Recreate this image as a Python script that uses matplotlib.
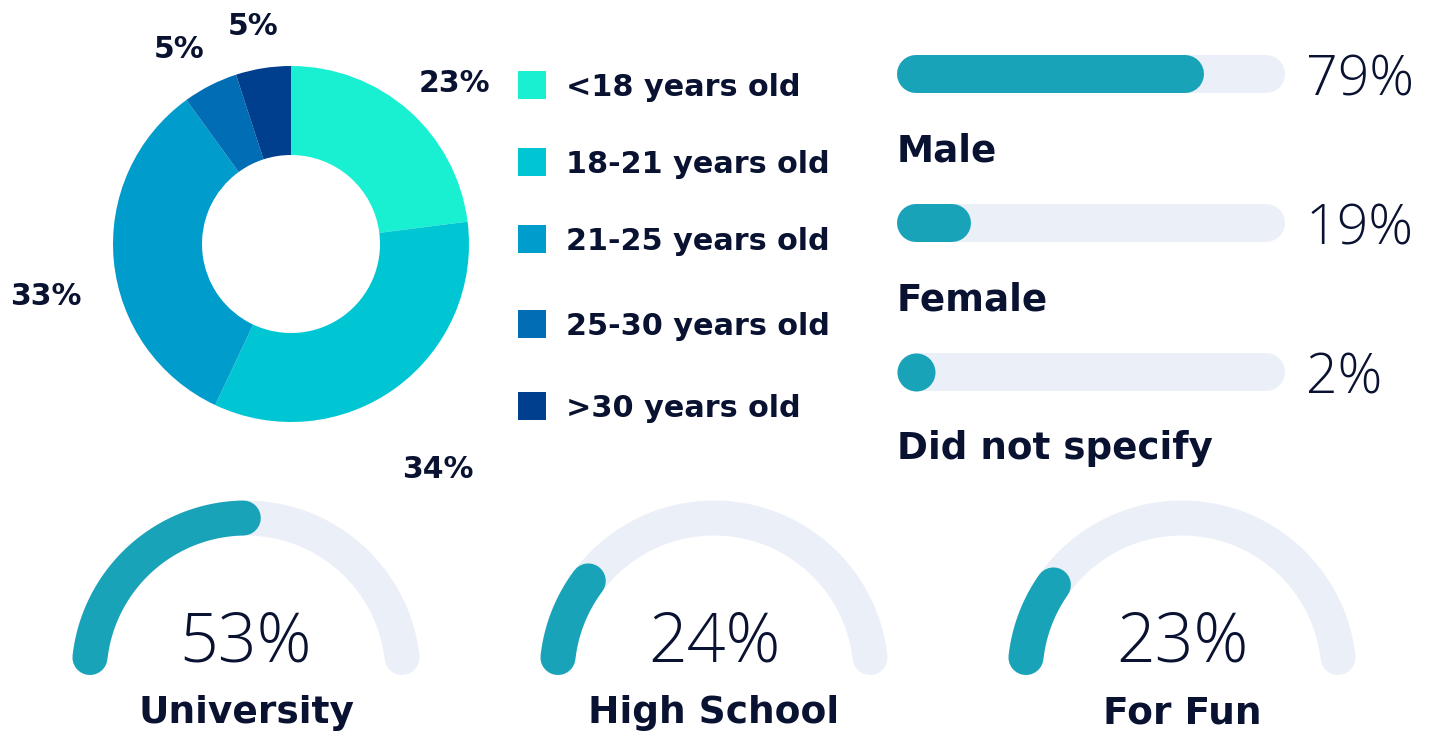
import matplotlib.pyplot as plt
from matplotlib.patches import Rectangle
import numpy as np

age_groups = ["<18 years old", "18-21 years old", "21-25 years old", "25-30 years old", ">30 years old"]
age_share = [23, 34, 33, 5, 5]
gender_labels = ["Male", "Female", "Did not specify"]
gender_share = [79, 19, 2]
purpose_labels = ["University", "High School", "For Fun"]
purpose_share = [53, 24, 23]

age_colors = ["#19f0d1", "#00c6d4", "#009ccb", "#006db5", "#003f8d"]
teal = "#19a3b8"
track = "#ebeff8"
ink = "#0a1232"

W, H = 1431, 737
fig = plt.figure(figsize=(W / 100, H / 100), dpi=100)
ax = fig.add_axes([0, 0, 1, 1])
ax.set_xlim(0, W)
ax.set_ylim(H, 0)
ax.axis("off")

bold = dict(family="DejaVu Sans", weight="bold", color=ink)
light = dict(family="Open Sans", weight="light", color=ink)

# donut
cx, cy, R = 291, 244, 178
dax = fig.add_axes([(cx - R) / W, (H - cy - R) / H, 2 * R / W, 2 * R / H])
wedges, _ = dax.pie(age_share, colors=age_colors, startangle=90, counterclock=False,
                    radius=1, wedgeprops=dict(width=0.5, linewidth=0))
dax.set_xlim(-1, 1)
dax.set_ylim(-1, 1)
# label placement (distance in radii, angle in degrees)
label_pos = [(1.29, 44.5), (1.51, -57), (1.41, -168), (1.26, 120), (1.24, 100)]
for v, (d, a) in zip(age_share, label_pos):
    a = np.deg2rad(a)
    dax.text(d * np.cos(a), d * np.sin(a), f"{v}%", ha="center", va="center",
             fontsize=21.5, clip_on=False, **bold)

# legend
leg_y = [85, 162, 239, 324, 406]
for lab, col, yc in zip(age_groups, age_colors, leg_y):
    ax.add_patch(Rectangle((518, yc - 14), 28, 28, color=col, lw=0))
    ax.text(566, yc + 11, lab, fontsize=21.8, va="baseline", **bold)

# progress bars
x0, L, r = 897, 388, 19
lw = 2 * r * 0.72
for i, (lab, v) in enumerate(zip(gender_labels, gender_share)):
    y = 74 + 149 * i
    ax.plot([x0 + r, x0 + L - r], [y, y], color=track, lw=lw, solid_capstyle="round")
    xe = x0 + v / 100 * L - r
    if xe > x0 + r:
        ax.plot([x0 + r, xe], [y, y], color=teal, lw=lw, solid_capstyle="round")
    else:
        ax.plot([x0 + r], [y], "o", color=teal, ms=lw, mew=0)
    ax.text(1306, y + 21, f"{v}%", fontsize=40, va="baseline", **light)
    ax.text(x0, y + 87, lab, fontsize=26.8, va="baseline", **bold)

# gauges
gx = [246, 714, 1182]
gy, gr, half = 675, 157, 17.5
delta = np.degrees(half / gr)
for c, lab, v in zip(gx, purpose_labels, purpose_share):
    th = np.deg2rad(np.linspace(180 - delta, delta, 200))
    ax.plot(c + gr * np.cos(th), gy - gr * np.sin(th), color=track, lw=2 * half * 0.72,
            solid_capstyle="round")
    end = min(180 - delta - 0.1, 180 - v / 100 * 180 + delta)
    th = np.deg2rad(np.linspace(180 - delta, end, 100))
    ax.plot(c + gr * np.cos(th), gy - gr * np.sin(th), color=teal, lw=2 * half * 0.72,
            solid_capstyle="round")
    ax.text(c, 662, f"{v}%", fontsize=49, ha="center", va="baseline", **light)
    ax.text(c, 723, lab, fontsize=27, ha="center", va="baseline", **bold)

fig.savefig("out.png", dpi=100, facecolor="white")
